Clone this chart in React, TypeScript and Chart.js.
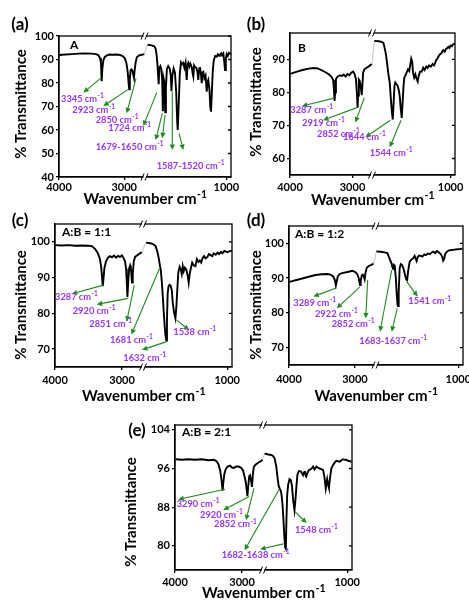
import React, { useEffect, useRef } from 'react';
import { Chart, registerables } from 'chart.js';

Chart.register(...registerables);

const FONT = 'Lato, "Open Sans", "DejaVu Sans", sans-serif';
const GREEN = '#1f8a1f';
const PURPLE = '#9933ff';

// Broken wavenumber axis: 4000–2680 cm-1 fills the left half, 1870–950 cm-1 the right half
const HIGH_START = 4000;
const HIGH_END = 2680;
const LOW_START = 1870;
const LOW_END = 950;

function axisPos(wn: number): number {
  if (wn >= HIGH_END) return (HIGH_START - wn) / (HIGH_START - HIGH_END);
  return 1 + (LOW_START - wn) / (LOW_START - LOW_END);
}

const xTickValues = [4000, 3000, 1000];
const xTickLabels = ['4000', '3000', '1000'];

// ---------- spectra: [wavenumber, %T] ----------
const aHigh = [
  [3995, 91.9], [3900, 92.1], [3800, 92.3], [3700, 92.5], [3600, 92.6], [3500, 92.5], [3430, 92.3],
  [3395, 91.8], [3370, 90.6], [3356, 88.5], [3345, 80.8], [3335, 86.0], [3320, 89.5], [3300, 91.0],
  [3270, 91.7], [3230, 92.1], [3180, 92.0], [3120, 92.1], [3060, 91.9], [3020, 91.4], [2990, 90.5],
  [2965, 88.5], [2945, 84.5], [2932, 80.0], [2923, 77.3], [2913, 82.0], [2900, 85.5], [2885, 85.8],
  [2870, 85.0], [2860, 83.5], [2850, 82.3], [2840, 85.0], [2825, 88.5], [2805, 91.0], [2770, 91.8],
  [2730, 92.0], [2690, 92.3],
];
const aLow = [
  [1842, 96.3], [1800, 96.0], [1770, 95.6], [1755, 94.5], [1745, 91.5], [1736, 87.5], [1724, 79.5],
  [1716, 86.5], [1706, 87.2], [1695, 86.0], [1686, 81.0], [1679, 68.0], [1671, 82.0], [1663, 80.5],
  [1654, 67.5], [1646, 78.0], [1636, 86.0], [1622, 87.2], [1605, 86.0], [1594, 83.0], [1587, 76.5],
  [1578, 83.0], [1564, 86.2], [1550, 84.5], [1536, 76.0], [1526, 64.0], [1520, 60.0], [1510, 70.0],
  [1498, 84.0], [1485, 88.8], [1472, 88.0], [1460, 88.5], [1448, 86.5], [1436, 88.6], [1424, 81.3],
  [1414, 87.8], [1407, 88.6], [1395, 87.0], [1385, 88.2], [1370, 86.8], [1360, 84.0], [1353, 82.7],
  [1345, 87.5], [1335, 86.8], [1322, 86.5], [1310, 85.0], [1300, 81.3], [1290, 86.2], [1282, 86.8],
  [1272, 84.0], [1263, 79.9], [1255, 84.5], [1246, 84.8], [1235, 82.0], [1222, 83.2], [1210, 76.3],
  [1200, 80.5], [1193, 81.3], [1180, 77.0], [1172, 70.0], [1164, 67.8], [1155, 76.0], [1145, 85.0],
  [1135, 89.5], [1120, 91.5], [1103, 91.2], [1090, 92.2], [1078, 91.6], [1068, 91.9], [1055, 92.6],
  [1045, 91.8], [1032, 92.6], [1022, 89.0], [1014, 85.5], [1005, 90.5], [996, 92.3], [985, 91.5],
  [972, 92.8], [960, 92.4], [950, 93.0],
];

const bHigh = [
  [3998, 85.6], [3900, 86.2], [3800, 86.8], [3700, 87.2], [3620, 87.4], [3560, 87.3], [3500, 86.8],
  [3440, 86.2], [3380, 85.5], [3340, 84.8], [3310, 83.8], [3297, 81.0], [3287, 77.4], [3278, 80.0],
  [3265, 84.0], [3240, 84.8], [3200, 85.2], [3170, 85.0], [3140, 85.4], [3110, 84.8], [3080, 85.6],
  [3050, 85.2], [3020, 86.0], [2990, 86.3], [2965, 85.5], [2945, 84.0], [2930, 80.0], [2919, 75.4],
  [2910, 79.0], [2898, 83.9], [2885, 83.5], [2870, 82.0], [2852, 79.2], [2842, 82.0], [2830, 86.0],
  [2810, 87.0], [2780, 87.4], [2750, 87.8], [2720, 88.2], [2690, 88.6],
];
const bLow = [
  [1850, 95.6], [1800, 95.5], [1770, 95.3], [1748, 95.0], [1735, 93.5], [1720, 91.5], [1708, 89.0],
  [1695, 86.0], [1678, 83.0], [1665, 78.0], [1655, 74.5], [1644, 71.8], [1636, 76.0], [1625, 82.0],
  [1616, 83.0], [1600, 82.4], [1589, 82.0], [1575, 80.5], [1565, 78.5], [1555, 75.0], [1544, 72.3],
  [1534, 77.0], [1524, 82.0], [1515, 84.5], [1505, 85.0], [1490, 86.0], [1474, 87.0], [1460, 86.5],
  [1448, 88.5], [1438, 90.3], [1428, 89.5], [1418, 86.0], [1405, 84.5], [1392, 85.5], [1380, 84.2],
  [1366, 83.3], [1355, 85.0], [1340, 86.3], [1321, 86.3], [1305, 87.5], [1290, 86.8], [1270, 87.8],
  [1255, 87.4], [1240, 88.2], [1220, 87.8], [1200, 88.6], [1185, 88.2], [1173, 88.8], [1160, 89.8],
  [1148, 90.2], [1136, 90.8], [1120, 91.5], [1100, 91.9], [1090, 92.6], [1080, 92.8], [1065, 92.3],
  [1050, 93.2], [1037, 93.4], [1025, 93.8], [1012, 93.5], [1000, 94.2], [985, 94.0], [970, 94.6],
  [950, 94.8],
];

const cHigh = [
  [3995, 99.1], [3900, 99.0], [3800, 99.1], [3700, 98.9], [3600, 99.0], [3500, 98.9], [3450, 98.8],
  [3400, 98.0], [3360, 96.8], [3330, 95.2], [3310, 92.8], [3298, 90.0], [3287, 87.6], [3278, 89.5],
  [3262, 92.8], [3240, 94.5], [3210, 95.6], [3180, 96.0], [3150, 95.7], [3120, 96.2], [3090, 95.6],
  [3060, 96.1], [3030, 95.8], [3000, 96.2], [2975, 95.4], [2955, 94.5], [2940, 92.5], [2930, 89.0],
  [2920, 84.6], [2910, 88.0], [2895, 92.5], [2880, 93.4], [2868, 92.5], [2851, 88.6], [2840, 91.0],
  [2825, 94.5], [2805, 95.8], [2770, 96.3], [2740, 96.7], [2705, 97.2],
];
const cLow = [
  [1844, 99.8], [1800, 99.6], [1770, 99.4], [1745, 98.8], [1728, 97.5], [1712, 95.5], [1700, 93.5],
  [1690, 92.0], [1680, 89.0], [1670, 85.0], [1660, 80.5], [1650, 76.5], [1640, 73.5], [1632, 72.4],
  [1626, 78.0], [1619, 85.5], [1610, 87.5], [1600, 88.0], [1588, 87.8], [1576, 86.5], [1566, 83.0],
  [1552, 80.2], [1538, 78.6], [1528, 82.0], [1518, 87.0], [1508, 91.5], [1494, 93.0], [1482, 92.2],
  [1472, 91.0], [1462, 93.2], [1452, 91.8], [1440, 92.8], [1425, 92.2], [1410, 90.5], [1400, 88.6],
  [1390, 91.0], [1378, 92.6], [1364, 94.2], [1348, 93.4], [1330, 93.2], [1315, 95.2], [1300, 94.4],
  [1285, 94.8], [1270, 94.2], [1255, 95.5], [1240, 96.0], [1225, 95.4], [1205, 95.8], [1190, 96.6],
  [1172, 96.3], [1155, 96.0], [1140, 96.8], [1120, 96.4], [1100, 97.0], [1085, 96.6], [1065, 97.2],
  [1050, 96.8], [1030, 97.5], [1012, 97.3], [995, 97.1], [975, 97.4], [950, 97.5],
];

const dHigh = [
  [3990, 88.9], [3900, 89.4], [3800, 89.9], [3700, 90.4], [3600, 90.9], [3500, 91.1], [3420, 91.2],
  [3370, 91.0], [3330, 90.5], [3305, 89.5], [3289, 87.9], [3278, 88.8], [3260, 90.5], [3230, 91.2],
  [3180, 91.5], [3130, 91.7], [3080, 91.9], [3040, 92.1], [3000, 91.8], [2965, 91.2], [2945, 90.2],
  [2932, 89.0], [2922, 88.0], [2912, 89.2], [2895, 90.8], [2880, 91.0], [2865, 90.5], [2852, 89.7],
  [2840, 91.5], [2820, 93.0], [2790, 93.5], [2750, 93.8], [2715, 94.2],
];
const dLow = [
  [1866, 97.7], [1820, 97.6], [1780, 97.4], [1750, 97.2], [1735, 96.2], [1720, 95.2], [1705, 94.2],
  [1695, 93.0], [1687, 92.6], [1680, 93.8], [1672, 93.6], [1660, 90.0], [1650, 85.0], [1642, 82.2],
  [1637, 82.0], [1630, 86.0], [1620, 92.8], [1608, 94.0], [1595, 93.8], [1580, 92.8], [1562, 90.8],
  [1550, 89.6], [1541, 89.4], [1530, 92.0], [1515, 94.6], [1498, 95.3], [1480, 95.6], [1462, 96.4],
  [1450, 95.5], [1440, 94.9], [1430, 96.0], [1415, 96.5], [1395, 96.4], [1380, 96.2], [1360, 96.8],
  [1344, 96.6], [1320, 97.1], [1300, 96.9], [1285, 97.3], [1265, 97.6], [1245, 97.2], [1225, 97.8],
  [1205, 97.4], [1188, 97.0], [1170, 96.2], [1160, 95.0], [1150, 95.4], [1138, 97.0], [1120, 97.6],
  [1098, 98.0], [1070, 98.1], [1040, 98.2], [1010, 98.3], [980, 98.4], [955, 98.5],
];

const eHigh = [
  [3990, 97.9], [3900, 97.8], [3800, 97.9], [3700, 97.8], [3600, 97.9], [3500, 97.7], [3420, 97.8],
  [3380, 97.5], [3350, 96.8], [3325, 95.5], [3305, 93.5], [3290, 91.4], [3280, 93.0], [3265, 94.8],
  [3245, 95.8], [3215, 96.4], [3180, 96.6], [3150, 96.2], [3120, 96.1], [3090, 96.4], [3050, 96.4],
  [3010, 96.1], [2985, 95.6], [2965, 94.5], [2945, 93.2], [2932, 91.8], [2920, 90.3], [2910, 92.0],
  [2893, 94.4], [2880, 94.6], [2866, 93.5], [2852, 92.2], [2840, 94.5], [2825, 96.3], [2800, 96.8],
  [2760, 97.2], [2720, 97.5], [2695, 97.8],
];
const eLow = [
  [1858, 99.1], [1820, 98.9], [1790, 98.8], [1771, 98.6], [1754, 98.1], [1737, 96.4], [1722, 93.8],
  [1712, 92.4], [1700, 91.8], [1690, 91.4], [1682, 90.5], [1672, 88.5], [1663, 85.5], [1652, 81.5],
  [1644, 79.6], [1638, 79.4], [1632, 85.0], [1624, 90.5], [1614, 92.6], [1600, 93.8], [1586, 93.6],
  [1574, 92.4], [1562, 89.5], [1548, 87.4], [1538, 89.5], [1528, 92.2], [1518, 94.6], [1508, 95.3],
  [1498, 95.5], [1488, 95.4], [1477, 95.3], [1465, 94.8], [1459, 94.6], [1448, 95.2], [1440, 95.5],
  [1430, 94.4], [1425, 94.3], [1415, 95.0], [1400, 95.6], [1385, 95.8], [1370, 96.0], [1355, 96.4],
  [1340, 95.8], [1320, 96.4], [1300, 96.1], [1286, 96.0], [1265, 95.8], [1250, 95.7], [1235, 94.0],
  [1223, 91.9], [1215, 93.0], [1208, 93.8], [1198, 92.6], [1190, 92.0], [1180, 93.8], [1165, 96.0],
  [1148, 96.7], [1130, 97.2], [1113, 97.6], [1095, 97.5], [1078, 97.4], [1060, 97.7], [1044, 97.9],
  [1025, 97.8], [1009, 97.8], [990, 97.6], [970, 97.5], [955, 97.4],
];

// ---------- peak call-outs ----------
// arrows: [tail wn, tail %T, head wn, head %T]; notes: [peak text, left edge wn, centre %T]
const aArrows = [
  [3362, 82.0, 3627, 75.9], [2936, 77.3, 3320, 70.2], [2818, 82.0, 2961, 67.1], [1745, 75.9, 2706, 61.7],
  [1685, 67.1, 1756, 55.7], [1656, 66.4, 1685, 56.5], [1578, 76.3, 1578, 51.5], [1506, 58.6, 1460, 51.5],
];
const aNotes: [string, number, number][] = [
  ['3345', 3969, 73.2], ['2923', 3796, 68.7], ['2850', 3437, 64.5], ['1724', 3243, 60.9],
  ['1679-1650', 3437, 52.8], ['1587-1520', 1745, 44.7],
];
const bArrows = [
  [3312, 78.2, 3808, 75.9], [2928, 75.4, 3472, 71.6], [2811, 78.4, 2955, 70.9],
  [1671, 71.6, 2795, 66.4], [1552, 71.6, 1678, 63.4],
];
const bNotes: [string, number, number][] = [
  ['3287', 3995, 74.8], ['2919', 3808, 70.9], ['2852', 3568, 67.4], ['1644', 3152, 66.6], ['1544', 2725, 61.9],
];
const cArrows = [
  [3280, 87.9, 3751, 85.4], [2907, 84.2, 3378, 82.5], [2817, 87.9, 2931, 77.7],
  [1706, 92.4, 2862, 74.1], [1629, 72.1, 2703, 69.8], [1525, 78.1, 1394, 75.3],
];
const cNotes: [string, number, number][] = [
  ['3287', 4000, 84.7], ['2920', 3736, 80.9], ['2851', 3488, 77.2], ['1681', 3180, 72.6],
  ['1632', 2981, 67.7], ['1538', 1560, 74.9],
];
const dArrows = [
  [3276, 87.2, 3631, 84.7], [2923, 87.5, 3276, 81.3], [2806, 89.5, 2836, 78.4],
  [1704, 92.3, 1828, 74.6], [1645, 81.3, 1704, 74.6], [1545, 89.0, 1429, 84.7],
];
const dNotes: [string, number, number][] = [
  ['3289', 3935, 83.0], ['2922', 3606, 79.9], ['2852', 3352, 77.0], ['1683-1637', 2934, 71.9], ['1541', 1528, 83.4],
];
const eArrows = [
  [3254, 91.7, 3951, 89.6], [2893, 90.2, 3280, 87.4], [2822, 91.9, 2941, 85.3],
  [1709, 91.6, 2963, 79.1], [1664, 80.4, 2730, 79.3], [1543, 87.1, 1421, 84.7],
];
const eNotes: [string, number, number][] = [
  ['3290', 3975, 88.8], ['2920', 3627, 86.4], ['2852', 3418, 84.5], ['1682-1638', 3304, 78.1], ['1548', 1543, 83.3],
];

type Panel = {
  letter: string;
  sample: string;
  high: number[][];
  low: number[][];
  arrows: number[][];
  notes: [string, number, number][];
  yMin: number;
  yMax: number;
  yTicks: number[];
  box: { left: number; top: number; width: number; height: number };
  area: { left: number; top: number; right: number; bottom: number };
  letterAt: [number, number];
  sampleAt: [number, number];
  yTitleAt: [number, number];
  xTitleY: number;
  xTickPad: number;
};

const panels: Panel[] = [
  {
    letter: '(a)', sample: 'A', high: aHigh, low: aLow, arrows: aArrows, notes: aNotes,
    yMin: 40, yMax: 100, yTicks: [40, 50, 60, 70, 80, 90, 100],
    box: { left: 0, top: 0, width: 255, height: 210 },
    area: { left: 59, top: 36, right: 231, bottom: 177 },
    letterAt: [20, 24.5], sampleAt: [70, 45.5], yTitleAt: [21, 104], xTitleY: 199, xTickPad: 1,
  },
  {
    letter: '(b)', sample: 'B', high: bHigh, low: bLow, arrows: bArrows, notes: bNotes,
    yMin: 55, yMax: 98, yTicks: [60, 70, 80, 90],
    box: { left: 235, top: 0, width: 234, height: 210 },
    area: { left: 290, top: 33, right: 455, bottom: 175 },
    letterAt: [256, 24.5], sampleAt: [298, 48.5], yTitleAt: [256, 102], xTitleY: 200, xTickPad: 3,
  },
  {
    letter: '(c)', sample: 'A:B = 1:1', high: cHigh, low: cLow, arrows: cArrows, notes: cNotes,
    yMin: 65, yMax: 105, yTicks: [70, 80, 90, 100],
    box: { left: 0, top: 205, width: 255, height: 200 },
    area: { left: 55, top: 224, right: 232, bottom: 367 },
    letterAt: [20, 221], sampleAt: [62, 232.5], yTitleAt: [21, 305], xTitleY: 396, xTickPad: 4,
  },
  {
    letter: '(d)', sample: 'A:B = 1:2', high: dHigh, low: dLow, arrows: dArrows, notes: dNotes,
    yMin: 65, yMax: 105, yTicks: [70, 80, 90, 100],
    box: { left: 235, top: 205, width: 250, height: 200 },
    area: { left: 289, top: 226, right: 463, bottom: 365 },
    letterAt: [256, 221], sampleAt: [295, 234], yTitleAt: [256, 305], xTitleY: 396, xTickPad: 5,
  },
  {
    letter: '(e)', sample: 'A:B = 2:1', high: eHigh, low: eLow, arrows: eArrows, notes: eNotes,
    yMin: 75, yMax: 105, yTicks: [80, 88, 96, 104],
    box: { left: 110, top: 405, width: 255, height: 199 },
    area: { left: 175, top: 425, right: 352, bottom: 570 },
    letterAt: [137, 431], sampleAt: [182, 432.5], yTitleAt: [131, 512], xTitleY: 593, xTickPad: 3,
  },
];

function font(size: number) {
  return `bold ${size}px ${FONT}`;
}

// text with a raised "-1" exponent; y is the vertical centre of the main text
function drawUnitText(ctx: CanvasRenderingContext2D, x: number, y: number, base: string, size: number, align: 'left' | 'center', color: string) {
  const sup = '-1';
  const supSize = size * 0.7;
  ctx.font = font(size);
  const wb = ctx.measureText(base).width;
  ctx.font = font(supSize);
  const ws = ctx.measureText(sup).width;
  const x0 = align === 'center' ? x - (wb + ws) / 2 : x;
  const baseline = y + size * 0.36;
  ctx.fillStyle = color;
  ctx.textAlign = 'left';
  ctx.textBaseline = 'alphabetic';
  ctx.font = font(size);
  ctx.fillText(base, x0, baseline);
  ctx.font = font(supSize);
  ctx.fillText(sup, x0 + wb + 0.5, baseline - size * 0.42);
}

function drawArrow(ctx: CanvasRenderingContext2D, x0: number, y0: number, x1: number, y1: number) {
  const ang = Math.atan2(y1 - y0, x1 - x0);
  const len = 5.5;
  const half = 2.6;
  const bx = x1 - len * Math.cos(ang);
  const by = y1 - len * Math.sin(ang);
  ctx.beginPath();
  ctx.moveTo(x0, y0);
  ctx.lineTo(bx, by);
  ctx.stroke();
  ctx.beginPath();
  ctx.moveTo(x1, y1);
  ctx.lineTo(bx + half * Math.sin(ang), by - half * Math.cos(ang));
  ctx.lineTo(bx - half * Math.sin(ang), by + half * Math.cos(ang));
  ctx.closePath();
  ctx.fill();
}

const decorations = {
  id: 'decorations',
  afterDraw(chart: any, _args: any, opts: any) {
    const p: Panel = opts.panel;
    const { ctx, chartArea: ca } = chart;
    const xs = chart.scales.x;
    const ys = chart.scales.y;
    const ox = p.box.left;
    const oy = p.box.top;
    const px = (wn: number) => xs.getPixelForValue(axisPos(wn));
    const py = (t: number) => ys.getPixelForValue(t);

    ctx.save();
    // plot frame
    ctx.strokeStyle = '#000';
    ctx.lineWidth = 1.3;
    ctx.strokeRect(ca.left, ca.top, ca.right - ca.left, ca.bottom - ca.top);

    // mirrored ticks on the right-hand side of the frame
    ctx.beginPath();
    for (const v of p.yTicks) {
      const yy = py(v);
      ctx.moveTo(ca.right, yy);
      ctx.lineTo(ca.right - 3, yy);
    }
    ctx.stroke();

    // axis-break marks
    const bx = xs.getPixelForValue(1);
    for (const yy of [ca.top, ca.bottom]) {
      ctx.fillStyle = '#fff';
      ctx.fillRect(bx - 1.5, yy - 1.5, 2.5, 3);
      ctx.beginPath();
      ctx.lineWidth = 1;
      ctx.moveTo(bx - 4, yy + 3.5);
      ctx.lineTo(bx - 1, yy - 3.5);
      ctx.moveTo(bx, yy + 3.5);
      ctx.lineTo(bx + 3, yy - 3.5);
      ctx.stroke();
    }

    // peak arrows
    ctx.strokeStyle = GREEN;
    ctx.fillStyle = GREEN;
    ctx.lineWidth = 1.1;
    for (const [tw, tt, hw, ht] of p.arrows) {
      drawArrow(ctx, px(tw), py(tt), px(hw), py(ht));
    }
    // peak labels
    for (const [txt, wn, t] of p.notes) {
      drawUnitText(ctx, px(wn), py(t), `${txt} cm`, 9.3, 'left', PURPLE);
    }

    // sample name inside the frame
    ctx.fillStyle = '#000';
    ctx.font = font(12);
    ctx.textAlign = 'left';
    ctx.textBaseline = 'middle';
    ctx.fillText(p.sample, p.sampleAt[0] - ox, p.sampleAt[1] - oy);

    // panel letter
    ctx.font = font(17);
    ctx.textAlign = 'center';
    ctx.fillText(p.letter, p.letterAt[0] - ox, p.letterAt[1] - oy);

    // axis titles
    drawUnitText(ctx, (ca.left + ca.right) / 2, p.xTitleY - oy, 'Wavenumber cm', 15, 'center', '#000');
    ctx.save();
    ctx.translate(p.yTitleAt[0] - ox, p.yTitleAt[1] - oy);
    ctx.rotate(-Math.PI / 2);
    ctx.fillStyle = '#000';
    ctx.font = font(15);
    ctx.textAlign = 'center';
    ctx.textBaseline = 'middle';
    ctx.fillText('% Transmittance', 0, 0);
    ctx.restore();

    ctx.restore();
  },
};

function SpectrumPanel({ p }: { p: Panel }) {
  const ref = useRef<HTMLCanvasElement>(null);

  useEffect(() => {
    const toPoint = ([wn, t]: number[]) => ({ x: axisPos(wn), y: t });
    const points = [...p.high.map(toPoint), ...p.low.map(toPoint)];
    const area = {
      left: p.area.left - p.box.left,
      top: p.area.top - p.box.top,
      right: p.area.right - p.box.left,
      bottom: p.area.bottom - p.box.top,
    };
    const tickFont = { family: FONT, size: 11, weight: 'bold' as const };
    const axisGrid = {
      display: true,
      drawOnChartArea: false,
      drawTicks: true,
      tickLength: 3,
      color: '#000',
      lineWidth: 1.3,
    };

    const chart = new Chart(ref.current!, {
      type: 'line',
      data: {
        datasets: [
          {
            data: points,
            borderColor: '#000',
            borderWidth: 1.9,
            pointRadius: 0,
            tension: 0,
            segment: {
              borderColor: (c: any) => (c.p0.parsed.x < 1 && c.p1.parsed.x > 1 ? '#c4c4c4' : undefined),
              borderWidth: (c: any) => (c.p0.parsed.x < 1 && c.p1.parsed.x > 1 ? 1 : undefined),
            },
          },
        ],
      },
      options: {
        responsive: false,
        animation: false,
        devicePixelRatio: 1,
        layout: { padding: { top: area.top, left: 0, right: p.box.width - area.right, bottom: 0 } },
        plugins: {
          legend: { display: false },
          tooltip: { enabled: false },
          decorations: { panel: p },
        } as any,
        scales: {
          x: {
            type: 'linear',
            min: 0,
            max: 2,
            afterFit: (s: any) => {
              s.height = p.box.height - area.bottom;
            },
            afterBuildTicks: (s: any) => {
              s.ticks = xTickValues.map((v) => ({ value: axisPos(v) }));
            },
            ticks: {
              callback: (_v: any, i: number) => xTickLabels[i],
              font: tickFont,
              color: '#000',
              padding: p.xTickPad,
              maxRotation: 0,
              autoSkip: false,
            },
            grid: axisGrid,
            border: { display: true, color: '#000', width: 1.3 },
          },
          y: {
            type: 'linear',
            min: p.yMin,
            max: p.yMax,
            afterFit: (s: any) => {
              s.width = area.left;
            },
            afterBuildTicks: (s: any) => {
              s.ticks = p.yTicks.map((v) => ({ value: v }));
            },
            ticks: { font: tickFont, color: '#000', padding: 2 },
            grid: axisGrid,
            border: { display: true, color: '#000', width: 1.3 },
          },
        },
      },
      plugins: [decorations],
    });
    return () => chart.destroy();
  }, [p]);

  return (
    <canvas
      ref={ref}
      width={p.box.width}
      height={p.box.height}
      style={{ position: 'absolute', left: p.box.left, top: p.box.top, width: p.box.width, height: p.box.height }}
    />
  );
}

export default function App() {
  return (
    <div
      style={{
        position: 'absolute',
        left: 0,
        top: 0,
        width: 469,
        height: 604,
        overflow: 'hidden',
        background: '#fff',
      }}
    >
      {panels.map((p) => (
        <SpectrumPanel key={p.letter} p={p} />
      ))}
    </div>
  );
}
